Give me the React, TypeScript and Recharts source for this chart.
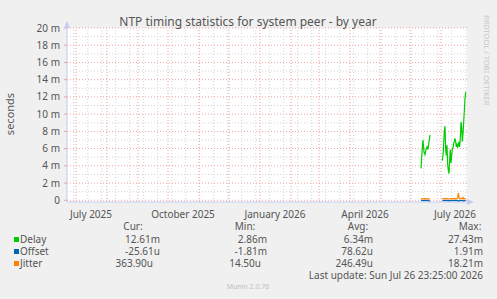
import React from 'react';
import {
  LineChart,
  Line,
  XAxis,
  YAxis,
  CartesianGrid,
  ReferenceLine,
} from 'recharts';

// days since graph start (Jun 21 2025 23:25), values in milliseconds
const days = [
  354, 355, 356, 357, 358, 359, 360, 361, 362, 363, 369,
  375.3, 376.3, 377.3, 378, 378.7, 379.3, 380, 380.7, 381.3, 382,
  382.7, 383.3, 384, 384.7, 385.3, 386, 386.7, 387.3, 388, 388.7,
  389.3, 390, 390.7, 391.3, 392, 392.7, 393.3, 394, 394.7, 395.3,
  396, 396.7, 397.3, 398, 398.7,
];
const delay = [
  3.7, 5.6, 7.0, 5.6, 5.3, 5.9, 6.2, 5.9, 6.8, 7.6, null,
  4.6, 5.6, 8.0, 8.6, 5.9, 5.2, 6.4, 4.1, 3.5, 3.1,
  4.8, 5.9, 4.3, 5.2, 5.9, 6.1, 6.6, 6.8, 7.2, 6.8,
  6.2, 6.6, 6.1, 6.4, 6.8, 6.2, 7.2, 9.1, 8.4, 6.8,
  7.7, 9.1, 10.3, 11.8, 12.6,
];
const offset = [
  -0.03, -0.02, -0.04, -0.03, -0.02, -0.03, -0.04, -0.02, -0.14, -0.03, null,
  -0.02, -0.03, -0.04, -0.02, -0.03, -0.03, -0.04, -0.02, -0.12, -0.03,
  -0.02, -0.03, -0.04, -0.03, -0.02, -0.03, -0.04, -0.02, -0.03, -0.02,
  -0.04, -0.03, -0.03, -0.15, -0.03, -0.02, -0.04, -0.03, -0.03, -0.04,
  -0.03, -0.12, -0.03, -0.04, -0.03,
];
const jitter = [
  0.17, 0.19, 0.15, 0.17, 0.18, 0.16, 0.17, 0.19, 0.15, 0.17, null,
  0.19, 0.17, 0.21, 0.17, 0.16, 0.19, 0.17, 0.2, 0.17, 0.15,
  0.18, 0.21, 0.17, 0.16, 0.19, 0.17, 0.18, 0.21, 0.17, 0.19,
  0.17, 0.16, 0.28, 0.85, 0.28, 0.18, 0.17, 0.19, 0.21, 0.17,
  0.33, 0.19, 0.17, 0.18, 0.17,
];

const monthStarts = [9, 40, 71, 101, 132, 162, 193, 224, 252, 283, 313, 344, 374];
const labelDays = [24, 116, 208, 298, 388];
const labelNames = ['July 2025', 'October 2025', 'January 2026', 'April 2026', 'July 2026'];
const minorDays = Array.from({ length: 29 }, (_, i) => 6.7 + i * 14);
const majorY = [0, 2, 4, 6, 8, 10, 12, 14, 16, 18, 20];
const minorY = [1, 3, 5, 7, 9, 11, 13, 15, 17, 19];

const seriesNames = ['Delay', 'Offset', 'Jitter'];
const seriesColors = ['#00cc00', '#0066b3', '#ff8000'];
const curVals = ['12.61m', '-25.61u', '363.90u'];
const minVals = ['2.86m', '-1.81m', '14.50u'];
const avgVals = ['6.34m', '78.62u', '246.49u'];
const maxVals = ['27.43m', '1.91m', '18.21m'];

const chartData = days.map((d, i) => ({
  day: d,
  delay: delay[i],
  offset: offset[i],
  jitter: jitter[i],
}));

const MINOR = '#d4d4d4';
const MAJOR = '#f2a0a0';
const AXIS = '#c6ccf2';
const TEXT = '#555';

export default function App() {
  return (
    <div
      style={{
        position: 'absolute',
        left: 0,
        top: 0,
        width: 497,
        height: 299,
        background: '#f0f0f0',
        fontFamily: '"Noto Sans", sans-serif',
      }}
    >
      <LineChart
        width={497}
        height={299}
        data={chartData}
        margin={{ top: 28, right: 30, left: 17, bottom: 77 }}
      >
        <CartesianGrid fill="#ffffff" horizontal={false} vertical={false} />
        {minorDays.map((d) => (
          <ReferenceLine key={'vx' + d} x={d} stroke={MINOR} strokeDasharray="1 2" />
        ))}
        {minorY.map((v) => (
          <ReferenceLine key={'hy' + v} y={v} stroke={MINOR} strokeDasharray="1 2" />
        ))}
        {monthStarts.map((d) => (
          <ReferenceLine key={'mx' + d} x={d} stroke={MAJOR} strokeDasharray="1 2" />
        ))}
        {majorY.map((v) => (
          <ReferenceLine key={'my' + v} y={v} stroke={MAJOR} strokeDasharray="1 2" />
        ))}
        <XAxis
          xAxisId="months"
          dataKey="day"
          type="number"
          domain={[0, 400]}
          ticks={monthStarts}
          height={0}
          axisLine={false}
          tickSize={4}
          tickLine={{ stroke: MAJOR }}
          tick={() => <g />}
        />
        <XAxis
          dataKey="day"
          type="number"
          domain={[0, 400]}
          ticks={labelDays}
          height={20}
          tickLine={false}
          tickMargin={3}
          axisLine={{ stroke: AXIS }}
          tick={{ fontSize: 10, fill: TEXT }}
          tickFormatter={(v: number) => labelNames[labelDays.indexOf(v)]}
        />
        <YAxis
          width={50}
          domain={[-0.2, 20]}
          ticks={majorY}
          allowDataOverflow
          tickSize={3}
          tickMargin={4}
          tickLine={{ stroke: MAJOR }}
          axisLine={{ stroke: AXIS }}
          tick={{ fontSize: 10, fill: TEXT }}
          tickFormatter={(v: number) => (v === 0 ? '0' : `${v} m`)}
        />
        <Line
          type="linear"
          dataKey="delay"
          stroke={seriesColors[0]}
          strokeWidth={1.2}
          dot={false}
          isAnimationActive={false}
        />
        <Line
          type="linear"
          dataKey="offset"
          stroke={seriesColors[1]}
          strokeWidth={1.2}
          dot={false}
          isAnimationActive={false}
        />
        <Line
          type="linear"
          dataKey="jitter"
          stroke={seriesColors[2]}
          strokeWidth={1.2}
          dot={false}
          isAnimationActive={false}
        />
      </LineChart>

      {/* titles, arrows and the rrdtool-style legend */}
      <svg
        width={497}
        height={299}
        style={{ position: 'absolute', left: 0, top: 0, pointerEvents: 'none' }}
        fontFamily='"Noto Sans", sans-serif'
      >
        <text x={248} y={26} textAnchor="middle" fontSize={12} fill={TEXT}>
          NTP timing statistics for system peer - by year
        </text>
        <text
          transform="translate(14,114) rotate(-90)"
          textAnchor="middle"
          fontSize={11}
          fill={TEXT}
        >
          seconds
        </text>
        <text
          transform="translate(484,15) rotate(90)"
          fontSize={7.5}
          fill="#c8c8c8"
        >
          RRDTOOL / TOBI OETIKER
        </text>
        <polygon points="64,28 70,28 67,21" fill={AXIS} />
        <polygon points="467,199 467,205 474,202" fill={AXIS} />

        <g fontSize={10} fill={TEXT}>
          <text x={133} y={230} textAnchor="middle">Cur:</text>
          <text x={245} y={230} textAnchor="middle">Min:</text>
          <text x={358} y={230} textAnchor="middle">Avg:</text>
          <text x={470} y={230} textAnchor="middle">Max:</text>
          {seriesNames.map((name, i) => {
            const y = 243 + i * 12;
            return (
              <g key={name}>
                <rect x={14} y={y - 6} width={5} height={5} fill={seriesColors[i]} />
                <text x={20} y={y}>{name}</text>
                <text x={i === 2 ? 153 : 160} y={y} textAnchor="end">{curVals[i]}</text>
                <text x={i === 2 ? 261 : 267} y={y} textAnchor="end">{minVals[i]}</text>
                <text x={373} y={y} textAnchor="end">{avgVals[i]}</text>
                <text x={483} y={y} textAnchor="end">{maxVals[i]}</text>
              </g>
            );
          })}
          <text x={483} y={279} textAnchor="end">Last update: Sun Jul 26 23:25:00 2026</text>
        </g>
        <text x={248} y={289} textAnchor="middle" fontSize={7} fill="#c0c0c0">
          Munin 2.0.76
        </text>
      </svg>
    </div>
  );
}
